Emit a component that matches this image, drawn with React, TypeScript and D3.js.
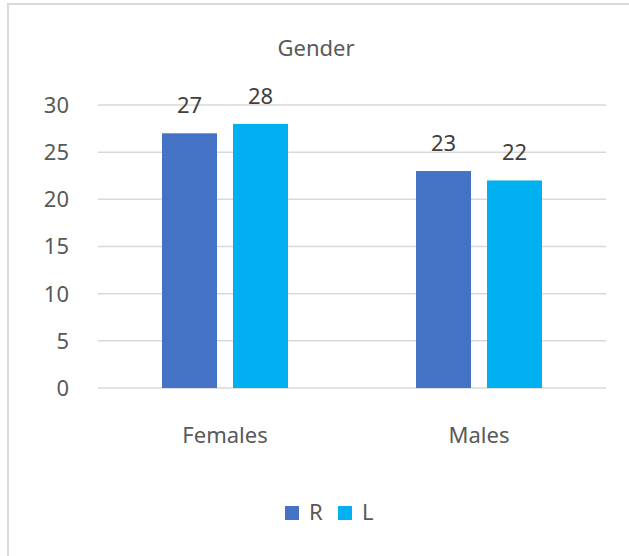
import * as d3 from 'd3';
import React, { useEffect, useRef } from 'react';

const categories = ['Females', 'Males'];
const series = ['R', 'L'];
const valuesR = [27, 23];
const valuesL = [28, 22];
const yTicks = [0, 5, 10, 15, 20, 25, 30];
const colors = ['#4472C4', '#00B0F0'];

export default function App() {
  const svgRef = useRef<SVGSVGElement | null>(null);

  useEffect(() => {
    const width = 629;
    const height = 556;
    const font = '"Noto Sans", sans-serif';
    const textColor = '#595959';

    const svg = d3.select(svgRef.current);
    svg.selectAll('*').remove();
    svg.attr('width', width).attr('height', height);

    // chart frame (cut off at right and bottom)
    svg
      .append('rect')
      .attr('x', 8)
      .attr('y', 4)
      .attr('width', width + 10)
      .attr('height', height + 10)
      .attr('fill', '#fff')
      .attr('stroke', '#D9D9D9')
      .attr('stroke-width', 2);

    const plot = { left: 98, right: 606, top: 105, bottom: 388 };

    const y = d3.scaleLinear().domain([0, 30]).range([plot.bottom, plot.top]);
    const x0 = d3
      .scaleBand()
      .domain(categories)
      .range([plot.left, plot.right])
      .padding(0);
    const groupW = 126;
    const x1 = d3
      .scaleBand()
      .domain(series)
      .range([(x0.bandwidth() - groupW) / 2, (x0.bandwidth() + groupW) / 2])
      .paddingInner(16 / 71)
      .paddingOuter(0);

    // title
    svg
      .append('text')
      .attr('x', 316)
      .attr('y', 56)
      .attr('text-anchor', 'middle')
      .style('font-family', font)
      .style('font-size', '22px')
      .attr('fill', textColor)
      .text('Gender');

    // gridlines
    svg
      .selectAll('.grid')
      .data(yTicks)
      .enter()
      .append('line')
      .attr('x1', plot.left)
      .attr('x2', plot.right)
      .attr('y1', (d) => y(d))
      .attr('y2', (d) => y(d))
      .attr('stroke', '#D9D9D9')
      .attr('stroke-width', 1.5);

    // y tick labels
    svg
      .selectAll('.ytick')
      .data(yTicks)
      .enter()
      .append('text')
      .attr('x', 69)
      .attr('y', (d) => y(d))
      .attr('dy', '0.36em')
      .attr('text-anchor', 'end')
      .style('font-family', font)
      .style('font-size', '22px')
      .attr('fill', textColor)
      .text((d) => d);

    const rows = categories.flatMap((c, i) => [
      { category: c, key: 'R', value: valuesR[i] },
      { category: c, key: 'L', value: valuesL[i] }
    ]);

    svg
      .selectAll('.bar')
      .data(rows)
      .enter()
      .append('rect')
      .attr('x', (d) => x0(d.category)! + x1(d.key)!)
      .attr('y', (d) => y(d.value))
      .attr('width', x1.bandwidth())
      .attr('height', (d) => y(0) - y(d.value))
      .attr('fill', (d) => colors[series.indexOf(d.key)]);

    // value labels
    svg
      .selectAll('.vlabel')
      .data(rows)
      .enter()
      .append('text')
      .attr('x', (d) => x0(d.category)! + x1(d.key)! + x1.bandwidth() / 2)
      .attr('y', (d) => y(d.value) - 20)
      .attr('text-anchor', 'middle')
      .style('font-family', font)
      .style('font-size', '22px')
      .attr('fill', '#404040')
      .text((d) => d.value);

    // category labels
    svg
      .selectAll('.xlabel')
      .data(categories)
      .enter()
      .append('text')
      .attr('x', (d) => x0(d)! + x0.bandwidth() / 2)
      .attr('y', 443)
      .attr('text-anchor', 'middle')
      .style('font-family', font)
      .style('font-size', '22px')
      .attr('fill', textColor)
      .text((d) => d);

    // legend
    const legendX = [285, 338];
    const legend = svg
      .selectAll('.legend')
      .data(series)
      .enter()
      .append('g')
      .attr('transform', (_, i) => `translate(${legendX[i]},506)`);
    legend
      .append('rect')
      .attr('width', 14)
      .attr('height', 14)
      .attr('fill', (_, i) => colors[i]);
    legend
      .append('text')
      .attr('x', 24)
      .attr('y', 14)
      .style('font-family', font)
      .style('font-size', '22px')
      .attr('fill', textColor)
      .text((d) => d);
  }, []);

  return (
    <div style={{ position: 'absolute', left: 0, top: 0 }}>
      <svg ref={svgRef} style={{ display: 'block' }} />
    </div>
  );
}
